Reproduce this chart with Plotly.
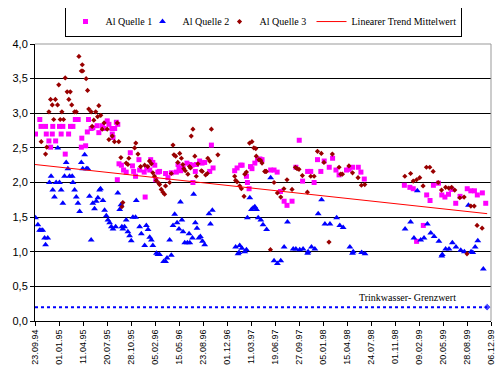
import pandas as pd
import plotly.graph_objects as go

START = "1994-09-23"

# ---- data (days since 23.09.94, Al concentration) ----
q1_days = [2, 20, 25, 44, 47, 58, 65, 72, 74, 86, 102, 109, 116, 126, 140, 148, 158, 168, 180, 193,
           195, 211, 218, 223, 234, 241, 259, 266, 280, 287, 301, 308, 320, 322, 325, 332, 339, 345,
           343, 350, 360, 369, 380, 397, 406, 411, 419, 433, 436, 455, 459, 466, 478, 482, 491, 499,
           503, 512, 519, 544, 554, 568, 589, 596, 600, 607, 617, 633, 645, 654, 658, 668, 673, 686,
           696, 707, 728, 735, 742, 832, 842, 857, 863, 881, 885, 892, 898, 904, 916, 927, 937, 946,
           982, 996, 1009, 1023, 1038, 1050, 1071, 1087, 1101, 1115, 1136, 1149, 1163, 1177, 1191,
           1205, 1226, 1240, 1254, 1267, 1298, 1309, 1323, 1347, 1358, 1372, 1539, 1562, 1576, 1590,
           1618, 1632, 1646, 1660, 1681, 1695, 1708, 1723, 1736, 1753, 1771, 1801, 1816, 1831, 1843,
           1864, 1878]
q1_values = [2.70, 2.91, 2.81, 2.81, 2.70, 2.60, 2.51, 2.70, 2.81, 2.60, 2.81, 2.70, 2.81, 2.41, 2.70,
             2.81, 2.81, 2.91, 2.91, 2.51, 2.64, 2.53, 2.73, 2.91, 2.78, 2.79, 2.82, 2.72, 2.82, 2.78,
             2.89, 2.84, 2.78, 2.70, 2.65, 2.78, 2.87, 2.84, 2.04, 2.27, 2.25, 2.18, 2.15, 2.43, 2.24,
             2.16, 2.09, 2.33, 2.18, 2.15, 1.79, 2.21, 2.18, 2.33, 2.29, 2.25, 2.04, 2.15, 2.16, 2.13,
             2.07, 2.14, 2.15, 2.26, 2.21, 2.17, 2.21, 2.28, 2.26, 2.25, 2.00, 2.16, 2.26, 2.31, 2.28,
             2.29, 2.16, 2.54, 2.21, 2.17, 2.21, 2.25, 2.25, 2.09, 2.00, 1.91, 2.23, 2.20, 2.28, 2.33,
             2.34, 2.33, 2.18, 2.18, 2.15, 1.87, 1.73, 1.67, 1.73, 2.22, 2.61, 2.02, 2.16, 2.16, 2.00,
             2.33, 2.16, 2.31, 2.22, 2.35, 2.18, 2.11, 2.18, 2.19, 2.22, 2.22, 2.15, 2.05, 1.96, 1.93,
             1.91, 1.15, 1.38, 1.82, 1.74, 1.96, 1.99, 1.82, 1.79, 1.83, 1.90, 1.70, 1.80, 1.91, 1.88,
             1.88, 1.82, 1.85, 1.70]

q2_days = [2, 12, 19, 25, 32, 40, 44, 53, 60, 67, 74, 81, 88, 95, 102, 109, 116, 123, 130, 137, 144,
           155, 158, 165, 172, 179, 186, 193, 199, 207, 214, 220, 227, 234, 241, 248, 255, 262, 269,
           273, 283, 290, 297, 304, 311, 318, 325, 336, 345, 353, 358, 362, 366, 373, 380, 387, 394,
           401, 408, 419, 422, 436, 443, 457, 464, 471, 478, 485, 491, 506, 512, 519, 536, 544, 550,
           561, 568, 575, 582, 592, 600, 606, 612, 617, 624, 635, 642, 645, 656, 661, 668, 675, 683,
           689, 698, 707, 725, 731, 739, 836, 846, 850, 853, 862, 874, 881, 885, 895, 902, 909, 916,
           923, 930, 941, 950, 965, 982, 996, 1010, 1024, 1038, 1052, 1076, 1087, 1103, 1117, 1136,
           1138, 1152, 1166, 1180, 1194, 1208, 1229, 1257, 1270, 1284, 1312, 1323, 1326, 1361, 1375,
           1542, 1565, 1579, 1593, 1607, 1621, 1635, 1649, 1663, 1683, 1695, 1697, 1711, 1725, 1739,
           1754, 1774, 1789, 1806, 1817, 1824, 1834, 1845, 1868]
q2_values = [1.49, 1.39, 1.31, 1.31, 1.31, 1.20, 1.10, 1.20, 2.00, 2.09, 1.89, 1.79, 2.00, 2.50, 2.00,
             1.89, 1.70, 2.09, 2.29, 2.20, 2.09, 2.09, 2.00, 1.89, 1.79, 1.70, 1.58, 2.29, 2.20, 2.40,
             2.20, 2.20, 1.80, 1.17, 1.70, 1.62, 1.73, 1.78, 1.89, 1.91, 1.74, 1.60, 1.52, 1.46, 1.42,
             1.36, 1.33, 1.36, 1.85, 1.61, 1.68, 1.36, 1.33, 1.36, 1.46, 1.29, 1.23, 1.16, 1.50, 1.50,
             1.74, 1.36, 1.26, 1.09, 1.38, 1.32, 1.21, 1.17, 1.09, 0.98, 0.96, 0.96, 0.86, 0.86, 0.91,
             1.17, 0.95, 1.38, 1.54, 1.42, 1.33, 1.72, 1.46, 1.29, 1.13, 1.13, 1.26, 1.13, 1.20, 1.83,
             1.42, 1.34, 1.20, 1.22, 1.15, 1.10, 1.55, 1.40, 1.60, 1.07, 0.97, 0.99, 1.09, 1.05, 1.00,
             1.03, 1.49, 1.78, 1.61, 1.63, 1.65, 1.61, 1.49, 1.46, 1.39, 1.32, 2.07, 0.87, 0.83, 0.87,
             1.07, 1.43, 1.04, 1.04, 1.03, 1.04, 0.98, 1.00, 1.07, 1.04, 1.55, 1.75, 1.40, 1.40, 1.49,
             1.38, 1.35, 1.07, 0.98, 1.00, 0.99, 0.97, 1.33, 1.43, 1.20, 1.88, 1.17, 1.20, 1.40, 1.27,
             1.22, 1.15, 0.94, 0.96, 1.04, 1.04, 1.13, 1.07, 1.02, 1.00, 1.67, 1.00, 0.99, 1.07, 1.16,
             0.75]

q3_days = [26, 44, 49, 58, 65, 72, 78, 85, 94, 99, 105, 112, 119, 126, 134, 141, 147, 153, 165, 172,
           183, 193, 197, 199, 213, 219, 224, 234, 238, 245, 253, 261, 266, 274, 280, 288, 301, 308,
           322, 331, 343, 349, 358, 362, 366, 380, 387, 391, 415, 420, 429, 440, 457, 470, 477, 485,
           491, 498, 505, 516, 519, 526, 533, 540, 544, 561, 568, 575, 579, 586, 595, 603, 610, 616,
           620, 626, 637, 644, 648, 651, 658, 666, 672, 679, 693, 697, 711, 718, 720, 728, 735, 762,
           832, 836, 842, 853, 860, 871, 874, 881, 894, 904, 912, 920, 922, 933, 940, 946, 957, 961,
           964, 981, 996, 1010, 1024, 1037, 1050, 1071, 1085, 1092, 1100, 1114, 1135, 1149, 1163,
           1177, 1193, 1204, 1225, 1239, 1267, 1274, 1281, 1308, 1323, 1346, 1360, 1374, 1541, 1565,
           1576, 1590, 1603, 1617, 1631, 1645, 1659, 1680, 1694, 1711, 1724, 1736, 1749, 1770, 1788,
           1800, 1816, 1830, 1842, 1863]
q3_values = [2.59, 2.41, 2.51, 3.02, 3.20, 3.12, 2.91, 3.20, 3.12, 3.41, 2.91, 3.02, 2.91, 3.51, 3.31,
             3.20, 3.31, 3.12, 3.02, 3.02, 3.82, 3.61, 3.70, 3.61, 3.50, 3.33, 3.06, 3.02, 2.81, 2.90,
             3.02, 2.95, 3.11, 2.97, 2.77, 2.86, 2.77, 2.62, 2.67, 2.59, 2.86, 2.59, 2.36, 1.65, 1.71,
             2.28, 2.26, 2.35, 2.50, 2.57, 2.41, 2.23, 2.25, 2.23, 2.31, 2.27, 2.14, 2.09, 2.03, 1.99,
             1.97, 1.90, 1.86, 1.83, 1.95, 2.00, 2.13, 2.54, 2.40, 2.38, 2.29, 2.42, 2.35, 2.26, 2.20,
             2.17, 2.12, 2.23, 2.21, 2.67, 2.77, 2.38, 2.09, 2.27, 2.17, 2.16, 2.11, 2.13, 2.35, 2.31,
             2.77, 2.40, 2.09, 2.03, 2.01, 1.95, 1.91, 1.80, 2.12, 2.15, 2.57, 2.59, 2.50, 2.49, 2.38,
             2.33, 2.32, 2.28, 2.16, 2.16, 2.16, 1.03, 2.00, 1.85, 1.79, 1.91, 2.04, 1.90, 2.22, 2.20,
             2.19, 2.10, 1.86, 2.09, 2.09, 2.45, 2.42, 2.29, 1.14, 2.41, 2.22, 2.12, 2.12, 2.24, 2.14,
             2.07, 1.96, 1.97, 2.09, 2.13, 2.02, 2.04, 2.07, 1.95, 2.22, 2.22, 2.16, 2.00, 1.89, 1.93,
             1.92, 1.93, 1.89, 1.78, 1.79, 0.97, 1.66, 1.66, 1.38, 1.34]

trend_dates = ["1994-09-23", "1999-11-20"]
trend_values = [2.26, 1.55]

limit_dates = ["1994-09-23", "1999-11-20"]
limit_values = [0.2, 0.2]

series_names = ["Al Quelle 1", "Al Quelle 2", "Al Quelle 3", "Linearer Trend Mittelwert"]
limit_label = "Trinkwasser- Grenzwert"

x_start, x_end = "1994-09-23", "1999-12-06"


def to_dates(days):
    return pd.Timestamp(START) + pd.to_timedelta(days, unit="D")


fig = go.Figure()
fig.add_trace(go.Scatter(x=to_dates(q1_days), y=q1_values, mode="markers", name=series_names[0],
                         legendwidth=32, marker=dict(symbol="square", size=5, color="#FF00FF")))
fig.add_trace(go.Scatter(x=to_dates(q2_days), y=q2_values, mode="markers", name=series_names[1],
                         legendwidth=32, marker=dict(symbol="triangle-up", size=6, color="#0000FF")))
fig.add_trace(go.Scatter(x=to_dates(q3_days), y=q3_values, mode="markers", name=series_names[2],
                         legendwidth=47, marker=dict(symbol="diamond", size=4, color="#990000")))
fig.add_trace(go.Scatter(x=trend_dates, y=trend_values, mode="lines", name=series_names[3],
                         legendwidth=104, line=dict(color="#FF0000", width=1)))
fig.add_trace(go.Scatter(x=limit_dates, y=limit_values, mode="lines+markers", showlegend=False,
                         line=dict(color="#0000FF", width=2, dash="dot"),
                         marker=dict(symbol="diamond", size=[0, 6], color="#0000FF")))

fig.add_annotation(x=0.928, xref="paper", y=limit_values[0], yref="y", yshift=10,
                   text=limit_label, showarrow=False, xanchor="right",
                   font=dict(family="Liberation Serif", size=10, color="black"))

# grey top / right frame
fig.add_shape(type="line", xref="paper", yref="paper", x0=0, x1=1, y0=1, y1=1,
              line=dict(color="#999999", width=1), layer="above")
fig.add_shape(type="line", xref="paper", yref="paper", x0=1, x1=1, y0=0, y1=1,
              line=dict(color="#999999", width=1), layer="above")

# page body adds an 8px margin, so the figure is sized to fit the window
fig.update_layout(
    width=496, height=371,
    margin=dict(l=27, r=13, t=36, b=58, autoexpand=False),
    paper_bgcolor="white", plot_bgcolor="white",
    separators=",.",
    showlegend=True,
    legend=dict(orientation="h", x=0.5, xanchor="center", y=1.137, yanchor="top",
                bordercolor="black", borderwidth=1, bgcolor="white",
                font=dict(family="Liberation Serif", size=10, color="black"),
                itemwidth=30, tracegroupgap=0, entrywidthmode="pixels"),
    font=dict(family="Liberation Sans", color="black"),
)
fig.update_xaxes(type="date", range=[x_start, x_end], tick0=x_start, dtick=100 * 86400000,
                 tickformat="%d.%m.%y", tickangle=-90, ticks="outside", ticklen=4,
                 tickcolor="black", showline=True, linecolor="black", linewidth=1,
                 showgrid=False, zeroline=False, automargin=False,
                 tickfont=dict(size=9, family="Liberation Sans"))
fig.update_yaxes(range=[0, 4], dtick=0.5, tickformat=".1f", ticks="outside", ticklen=4,
                 tickcolor="black", showline=True, linecolor="black", linewidth=1,
                 showgrid=True, gridcolor="black", gridwidth=1, zeroline=False, automargin=False,
                 tickfont=dict(size=11, family="Liberation Sans"))

fig.write_html("out.html")
